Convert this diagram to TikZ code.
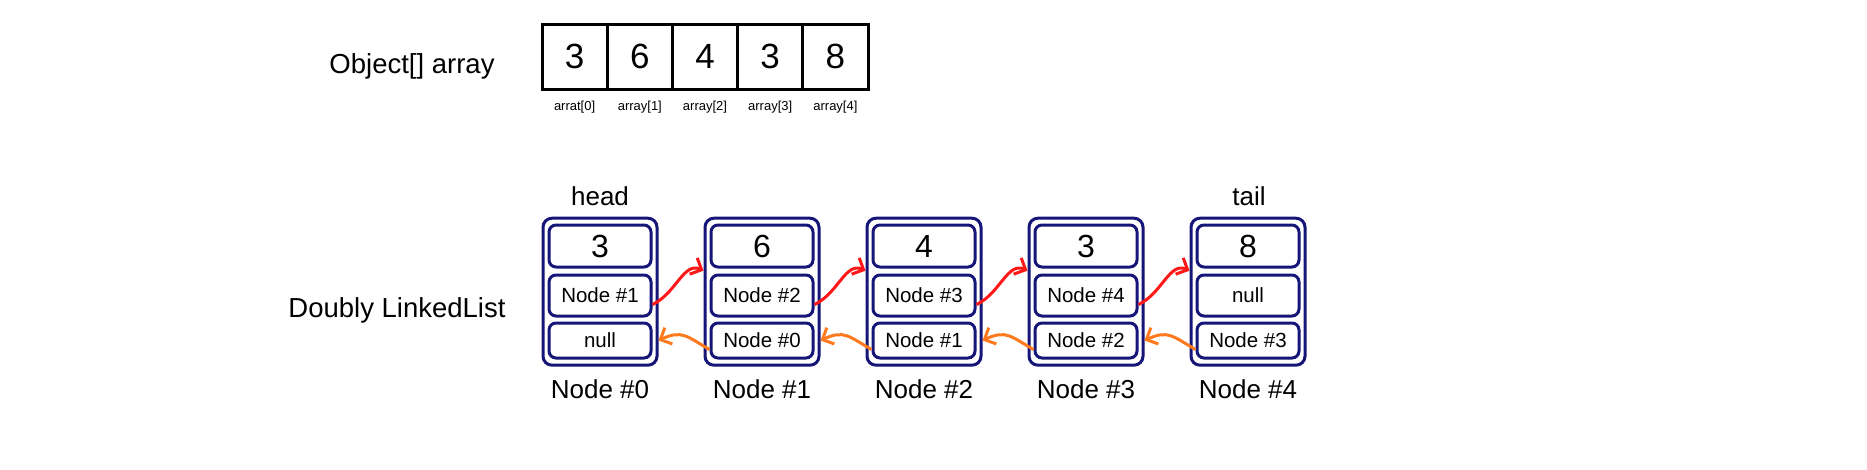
\documentclass[tikz,border=0pt]{standalone}
\usepackage{fontspec}
\setmainfont{Liberation Sans}
\usetikzlibrary{arrows.meta}
\definecolor{navyc}{RGB}{22,22,120}
\definecolor{redc}{RGB}{255,24,24}
\definecolor{orangec}{RGB}{255,122,30}
\tikzset{
  outerbox/.style={draw=navyc, line width=3pt, rounded corners=9pt, minimum width=114pt, minimum height=147pt, inner sep=0pt, fill=white},
  innerbox/.style={draw=navyc, line width=3pt, rounded corners=7pt, minimum width=102pt, inner sep=0pt, fill=white},
  valbox/.style={innerbox, minimum height=42pt, font=\fontsize{32}{36}\selectfont},
  midbox/.style={innerbox, minimum height=41pt, font=\fontsize{20.5}{24}\selectfont},
  botbox/.style={innerbox, minimum height=35pt, font=\fontsize{20.5}{24}\selectfont},
  cell/.style={draw=black, line width=3pt, minimum width=65.2pt, minimum height=65pt, inner sep=0pt, font=\fontsize{35}{40}\selectfont},
  celllabel/.style={anchor=base, inner sep=0pt, font=\fontsize{13}{16}\selectfont},
  biglabel/.style={anchor=base, inner sep=0pt, font=\fontsize{26}{30}\selectfont},
  toplabel/.style={anchor=base, inner sep=0pt, font=\fontsize{26}{30}\selectfont},
  titlelabel/.style={anchor=base, inner sep=0pt, font=\fontsize{27.5}{32}\selectfont},
  nextarrow/.style={draw=redc, line width=3pt, -{Straight Barb[length=9pt,width=18pt]}},
  prevarrow/.style={draw=orangec, line width=3pt, -{Straight Barb[length=9pt,width=18pt]}},
}
\begin{document}
\begin{tikzpicture}[x=1pt,y=-1pt]
\useasboundingbox (0,0) rectangle (1867,469);
% array
\node[titlelabel] (arrtitle) at (412,73) {Object[] array};
\foreach \i/\v/\l in {0/3/arrat[0],1/6/array[1],2/4/array[2],3/3/array[3],4/8/array[4]}{
  \node[cell] (a\i) at ({574.6+65.2*\i},56.5) {\v};
  \node[celllabel] (al\i) at ({574.6+65.2*\i},110) {\l};
}
% linked list
\node[titlelabel] (lltitle) at (397,317) {Doubly LinkedList};
\foreach \i/\v/\nx/\pv in {0/3/Node \#1/null,1/6/Node \#2/Node \#0,2/4/Node \#3/Node \#1,3/3/Node \#4/Node \#2,4/8/null/Node \#3}{
  \node[outerbox] (n\i) at ({600+162*\i},291.7) {};
  \node[valbox] (v\i) at ({600+162*\i},246) {\v};
  \node[midbox] (m\i) at ({600+162*\i},295.5) {\nx};
  \node[botbox] (b\i) at ({600+162*\i},340.5) {\pv};
  \node[biglabel] (lab\i) at ({600+162*\i},398) {Node \#\i};
}
\node[toplabel] (head) at (600,205) {head};
\node[toplabel] (tail) at (1249,205) {tail};
\foreach \i in {0,1,2,3}{
  \pgfmathtruncatemacro{\j}{\i+1}
  \draw[nextarrow] ([yshift=-9pt]m\i.east) .. controls +(-25:26) and +(205:22) .. ([yshift=21pt]n\j.west);
  \draw[prevarrow] ([yshift=-9pt]b\j.west) .. controls +(210:26) and +(-25:26) .. (n\i.east |- b\i);
}
\end{tikzpicture}
\end{document}
